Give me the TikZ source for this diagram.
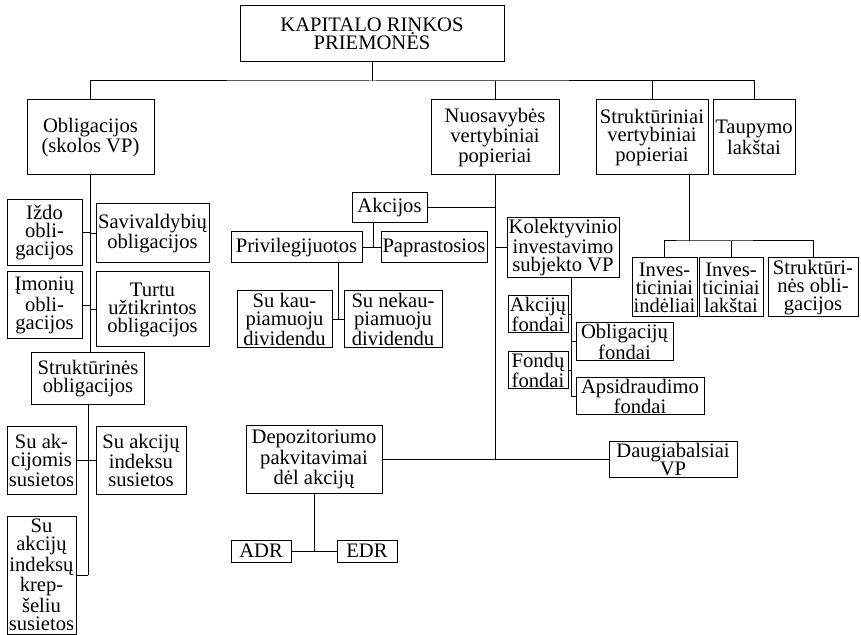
\documentclass[tikz,border=0pt]{standalone}
\usepackage{fontspec}
\setmainfont{Liberation Serif}

\begin{document}
\begin{tikzpicture}[x=0.5pt,y=-0.5pt,line width=0.5pt]
  \tikzstyle{every node}=[draw,align=center,inner sep=0pt,font=\fontsize{10.3}{9}\selectfont]
  \tikzset{sz/.style 2 args={minimum width=#1*0.5pt,minimum height=#2*0.5pt}}
  \useasboundingbox (0,0) rectangle (861,635);
  % top level
  \node[sz={264}{56}] (kap) at (372,34) {KAPITALO RINKOS\\PRIEMONĖS};
  \node[sz={127}{75}] (obl) at (90.5,137.5) {Obligacijos\\(skolos VP)};
  \node[sz={128}{75}] (nuos) at (495,137.5) {Nuosavybės\\vertybiniai\\popieriai};
  \node[sz={112}{75}] (strvp) at (652,137.5) {Struktūriniai\\vertybiniai\\popieriai};
  \node[sz={82}{75}] (taup) at (754,137.5) {Taupymo\\lakštai};
  \coordinate (bus) at (372,81);
  \draw (kap) -- (bus);
  \draw (obl) |- (bus) -| (taup);
  \draw (nuos) -- (nuos |- bus);
  \draw (strvp) -- (strvp |- bus);
  % obligacijos
  \node[sz={75}{66}] (izdo) at (44.5,233) {Iždo\\obli-\\gacijos};
  \node[sz={113}{59}] (saviv) at (152.5,233.5) {Savivaldybių\\obligacijos};
  \node[sz={75}{67}] (imon) at (44.5,305.5) {Įmonių\\obli-\\gacijos};
  \node[sz={113}{75}] (turtu) at (152.5,309.5) {Turtu\\užtikrintos\\obligacijos};
  \node[sz={113}{52}] (strobl) at (88,379) {Struktūrinės\\obligacijos};
  \draw (obl) -- (obl |- strobl.north);
  \draw (izdo) -- (izdo -| obl);
  \draw (saviv) -- (saviv -| obl);
  \draw (imon) -- (imon -| obl);
  \draw (turtu) -- (turtu -| obl);
  \node[sz={69}{67}] (suakc) at (41.5,460.5) {Su ak-\\cijomis\\susietos};
  \node[sz={90}{67}] (suind) at (141,460.5) {Su akcijų\\indeksu\\susietos};
  \node[sz={69}{118}] (krep) at (41.5,575) {Su\\akcijų\\indeksų\\krep-\\šeliu\\susietos};
  \draw (strobl) -- (strobl |- krep);
  \draw (krep) -- (krep -| strobl);
  \draw (suakc) -- (suakc -| strobl);
  \draw (suind) -- (suind -| strobl);
  % akcijos
  \node[sz={75}{30}] (akc) at (389.5,208) {Akcijos};
  \node[sz={131}{31}] (priv) at (296.5,247.5) {Privilegijuotos};
  \node[sz={106}{31}] (papr) at (434,247.5) {Paprastosios};
  \draw (priv) -- coordinate[pos=0.63] (pp) (papr);
  \draw (pp) -- (pp |- akc.south);
  \draw (akc) -- (akc -| nuos);
  \node[sz={95}{57}] (kaup) at (284.5,319.5) {Su kau-\\piamuoju\\dividendu};
  \node[sz={98}{57}] (nekaup) at (393,319.5) {Su nekau-\\piamuoju\\dividendu};
  \draw (kaup) -- coordinate (kk) (nekaup);
  \draw (kk) -- (kk |- priv.south);
  % kolektyvinio investavimo
  \node[sz={112}{60}] (kolekt) at (563,248) {Kolektyvinio\\investavimo\\subjekto VP};
  \draw (kolekt) -- (kolekt -| nuos);
  \node[sz={60}{37}] (akcf) at (538,314.5) {Akcijų\\fondai};
  \node[sz={97}{38}] (oblf) at (624.5,342) {Obligacijų\\fondai};
  \node[sz={60}{37}] (fondf) at (538,370.5) {Fondų\\fondai};
  \node[sz={128}{37}] (apsf) at (640,396.5) {Apsidraudimo\\fondai};
  \coordinate (kv) at (571,0);
  \draw (kolekt.south -| kv) -- (apsf -| kv);
  \draw (akcf) -- (akcf -| kv);
  \draw (oblf) -- (oblf -| kv);
  \draw (fondf) -- (fondf -| kv);
  \draw (apsf) -- (apsf -| kv);
  % depozitoriumo pakvitavimai
  \node[sz={136}{67}] (depoz) at (314,459.5) {Depozitoriumo\\pakvitavimai\\dėl akcijų};
  \node[sz={128}{36}] (daug) at (673,459.5) {Daugiabalsiai\\VP};
  \draw (depoz) -- (daug);
  \draw (nuos) -- (nuos |- daug);
  \node[sz={60}{22}] (adr) at (261,551) {ADR};
  \node[sz={60}{22}] (edr) at (367,551) {EDR};
  \draw (adr) -- (edr);
  \draw (depoz) -- (depoz |- adr);
  % strukturiniai
  \node[sz={65}{59}] (invind) at (664.5,287.5) {Inves-\\ticiniai\\indėliai};
  \node[sz={64}{59}] (invlak) at (731,287.5) {Inves-\\ticiniai\\lakštai};
  \node[sz={90}{59}] (strobl2) at (813,287.5) {Struktūri-\\nės obli-\\gacijos};
  \coordinate (sv) at (689,241);
  \draw (strvp.south -| sv) -- (sv);
  \draw (invind) |- (sv) -| (strobl2);
  \draw (invlak) -- (invlak |- sv);
\end{tikzpicture}
\end{document}
